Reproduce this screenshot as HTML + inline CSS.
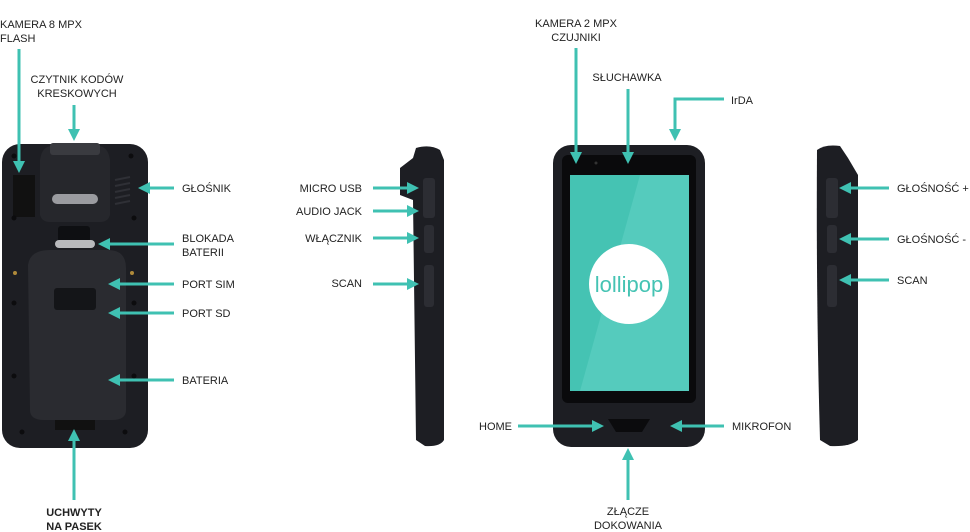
<!DOCTYPE html>
<html><head><meta charset="utf-8"><style>
html,body{margin:0;padding:0;background:#fff;width:970px;height:532px;overflow:hidden}
svg text{font-family:"Liberation Sans",sans-serif;font-size:11px;fill:#222}
</style></head><body>
<svg width="970" height="532" viewBox="0 0 970 532" xmlns="http://www.w3.org/2000/svg">
<defs>
<marker id="a" markerWidth="4" markerHeight="4" refX="3" refY="2" orient="auto" markerUnits="strokeWidth">
<path d="M0,0 L4,2 L0,4 z" fill="#3fc1b2"/></marker>
</defs>
<!-- BACK DEVICE -->
<rect x="2" y="144" width="146" height="304" rx="18" fill="#1d1e23"/>
<path d="M40,160 Q42,146 52,146 L98,146 Q108,146 110,160 L110,215 Q108,222 100,222 L50,222 Q42,222 40,215 Z" fill="#26272c"/>
<rect x="50" y="143" width="50" height="12" rx="3" fill="#3a3b40"/>
<rect x="13" y="175" width="22" height="42" fill="#111"/>
<g stroke="#2f3036" stroke-width="2"><path d="M115,180 L130,177 M115,186 L130,183 M115,192 L130,189 M115,198 L130,195 M115,204 L130,201"/></g>
<rect x="52" y="194" width="46" height="10" rx="5" fill="#9a9ba0"/>
<rect x="58" y="226" width="32" height="16" rx="3" fill="#0e0f12"/>
<rect x="55" y="240" width="40" height="8" rx="4" fill="#b9babd"/>
<path d="M28,265 Q30,250 50,250 L108,250 Q126,250 126,268 L126,410 Q126,420 112,420 L44,420 Q30,420 30,410 Z" fill="#2a2b30"/>
<rect x="54" y="288" width="42" height="22" rx="3" fill="#141518"/>
<rect x="55" y="420" width="40" height="10" fill="#111"/>
<circle cx="15" cy="273" r="2" fill="#b08a3a"/><circle cx="132" cy="273" r="2" fill="#b08a3a"/>
<g fill="#0c0c0e"><circle cx="14" cy="156" r="2.5"/><circle cx="131" cy="156" r="2.5"/><circle cx="14" cy="218" r="2.5"/><circle cx="134" cy="218" r="2.5"/><circle cx="14" cy="303" r="2.5"/><circle cx="134" cy="303" r="2.5"/><circle cx="14" cy="376" r="2.5"/><circle cx="134" cy="376" r="2.5"/><circle cx="22" cy="432" r="2.5"/><circle cx="125" cy="432" r="2.5"/></g>
<!-- SIDE 1 -->
<path d="M400,168 L413,158 L416,148 Q430,144 440,150 L444,160 L444,440 Q440,447 425,446 L416,440 L413,200 L400,195 Z" fill="#1d1e23"/>
<rect x="423" y="178" width="12" height="40" rx="3" fill="#2c2d33"/>
<rect x="424" y="225" width="10" height="28" rx="3" fill="#2c2d33"/>
<rect x="424" y="265" width="10" height="42" rx="3" fill="#2c2d33"/>
<!-- FRONT -->
<rect x="553" y="145" width="152" height="302" rx="18" fill="#1d1e23"/>
<rect x="562" y="155" width="134" height="248" rx="6" fill="#0a0a0c"/>
<rect x="570" y="175" width="119" height="216" fill="#45c3b3"/>
<path d="M640,175 L689,175 L689,391 L580,391 Z" fill="#55cbbd"/>
<circle cx="629" cy="284" r="40" fill="#fff"/>
<text x="629" y="292" text-anchor="middle" style="font-size:22px;fill:#45c3b3">lollipop</text>
<path d="M608,419 L650,419 L642,432 L616,432 Z" fill="#0b0b0d"/>
<circle cx="596" cy="163" r="1.5" fill="#333"/>
<!-- SIDE 2 -->
<path d="M817,150 Q825,144 840,146 L848,158 L858,175 L858,440 Q850,447 830,446 L820,440 Q816,300 817,150 Z" fill="#1d1e23"/>
<rect x="826" y="178" width="12" height="40" rx="3" fill="#2c2d33"/>
<rect x="827" y="225" width="10" height="28" rx="3" fill="#2c2d33"/>
<rect x="827" y="265" width="10" height="42" rx="3" fill="#2c2d33"/>
<!-- ARROWS -->
<g stroke="#3fc1b2" stroke-width="3" fill="none" marker-end="url(#a)">
<path d="M19,49 V170"/>
<path d="M74,105 V138"/>
<path d="M174,188 H141"/>
<path d="M174,244 H101"/>
<path d="M174,284 H111"/>
<path d="M174,313 H111"/>
<path d="M174,380 H111"/>
<path d="M74,500 V432"/>
<path d="M373,188 H416"/>
<path d="M373,211 H416"/>
<path d="M373,238 H416"/>
<path d="M373,284 H416"/>
<path d="M576,48 V161"/>
<path d="M628,89 V161"/>
<path d="M724,99 H675 V138"/>
<path d="M518,426 H601"/>
<path d="M724,426 H673"/>
<path d="M628,500 V451"/>
<path d="M889,188 H842"/>
<path d="M889,239 H842"/>
<path d="M889,280 H842"/>
</g>
<!-- LABELS -->
<text x="0" y="28">KAMERA 8 MPX</text>
<text x="0" y="42">FLASH</text>
<text x="77" y="83" text-anchor="middle">CZYTNIK KODÓW</text>
<text x="77" y="97" text-anchor="middle">KRESKOWYCH</text>
<text x="182" y="192">GŁOŚNIK</text>
<text x="182" y="242">BLOKADA</text>
<text x="182" y="256">BATERII</text>
<text x="182" y="288">PORT SIM</text>
<text x="182" y="317">PORT SD</text>
<text x="182" y="384">BATERIA</text>
<text x="74" y="516" text-anchor="middle" style="font-weight:bold">UCHWYTY</text>
<text x="74" y="530" text-anchor="middle" style="font-weight:bold">NA PASEK</text>
<text x="362" y="192" text-anchor="end">MICRO USB</text>
<text x="362" y="215" text-anchor="end">AUDIO JACK</text>
<text x="362" y="242" text-anchor="end">WŁĄCZNIK</text>
<text x="362" y="287" text-anchor="end">SCAN</text>
<text x="576" y="27" text-anchor="middle">KAMERA 2 MPX</text>
<text x="576" y="41" text-anchor="middle">CZUJNIKI</text>
<text x="627" y="81" text-anchor="middle">SŁUCHAWKA</text>
<text x="731" y="104">IrDA</text>
<text x="479" y="430">HOME</text>
<text x="732" y="430">MIKROFON</text>
<text x="628" y="515" text-anchor="middle">ZŁĄCZE</text>
<text x="628" y="529" text-anchor="middle">DOKOWANIA</text>
<text x="897" y="192">GŁOŚNOŚĆ +</text>
<text x="897" y="243">GŁOŚNOŚĆ -</text>
<text x="897" y="284">SCAN</text>
</svg>
</body></html>
